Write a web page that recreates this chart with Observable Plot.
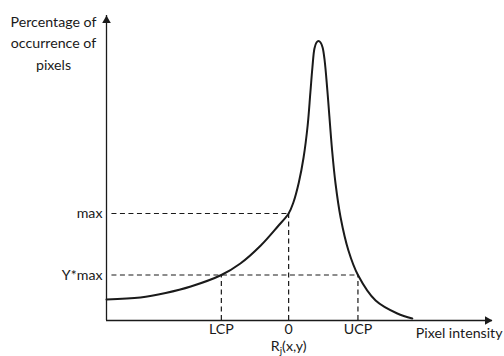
<!DOCTYPE html>
<html>
<head>
<meta charset="utf-8">
<script src="https://cdn.jsdelivr.net/npm/d3@7"></script>
<script src="https://cdn.jsdelivr.net/npm/@observablehq/plot@0.6"></script>
<style>
  html, body { margin: 0; padding: 0; background: #fff; }
  #chart svg { display: block; }
</style>
</head>
<body>
<div id="chart"></div>
<script>
// Histogram curve (pixel intensity vs percentage of occurrence)
const curveX = [-2.68, -2.18, -1.81, -1.44, -0.99, -0.71, -0.41, -0.16, 0, 0.07, 0.15, 0.22, 0.28, 0.32, 0.35, 0.38, 0.41, 0.44, 0.47, 0.50, 0.53, 0.57, 0.64, 0.69, 0.765, 0.88, 1.02, 1.28, 1.60, 1.82];
const curveY = [2.1, 2.3, 2.75, 3.4, 4.55, 5.7, 7.5, 9.4, 10.7, 11.8, 13.8, 16.3, 19.5, 22.8, 25.3, 27.2, 27.8, 27.95, 27.8, 27.3, 26.0, 23.0, 17.0, 13.7, 10.3, 7.0, 4.55, 2.0, 0.7, 0.2];

// Axis extents
const xMin = -2.68, xMax = 3.0;
const yMin = 0, yMax = 30.5;

// Tick values and labels
const xTicks = [-0.99, 0, 1.02];
const xTickLabels = ["LCP", "0", "UCP"];
const yTicks = [4.55, 10.7];
const yTickLabels = ["Y*max", "max"];

// Guide lines
const maxValue = 10.7;
const yMaxValue = 4.55;   // Y*max
const lcp = -0.99, zero = 0, ucp = 1.02;
const guideStart = -2.6;

const xTitle = "Pixel intensity";
const yTitle = "Percentage of\noccurrence of\npixels";
const subLabel = "Rj(x,y)";

const curve = curveX.map((x, i) => ({x, y: curveY[i]}));
const hGuides = [
  {y: maxValue, x1: guideStart, x2: zero},
  {y: yMaxValue, x1: guideStart, x2: ucp}
];
const vGuides = [
  {x: lcp, y1: 0, y2: yMaxValue},
  {x: zero, y1: 0, y2: maxValue},
  {x: ucp, y1: 0, y2: yMaxValue}
];

const FONT = "Lato, 'Liberation Sans', sans-serif";
const INK = "#1a1a1a";

const chart = Plot.plot({
  width: 504,
  height: 356,
  marginLeft: 106,
  marginRight: 12,
  marginTop: 15,
  marginBottom: 36,
  style: {fontFamily: FONT, fontSize: "14.2px", color: INK, background: "#fff"},
  x: {domain: [xMin, xMax], ticks: xTicks, tickFormat: (d, i) => xTickLabels[i], tickSize: 0, tickPadding: 3, label: null},
  y: {domain: [yMin, yMax], ticks: yTicks, tickFormat: (d, i) => yTickLabels[i], tickSize: 0, tickPadding: 4, label: null},
  marks: [
    // dashed guides
    Plot.ruleY(hGuides, {y: "y", x1: "x1", x2: "x2", stroke: INK, strokeWidth: 1.2, strokeDasharray: "5,3.5"}),
    Plot.ruleX(vGuides, {x: "x", y1: "y1", y2: "y2", stroke: INK, strokeWidth: 1.2, strokeDasharray: "5,3.5"}),
    // axes lines
    Plot.ruleX([xMin], {y1: yMin, y2: yMax, stroke: INK, strokeWidth: 1.3}),
    Plot.ruleY([yMin], {x1: xMin, x2: xMax, stroke: INK, strokeWidth: 1.3}),
    // arrow heads
    Plot.dot([{x: xMin, y: yMax}], {x: "x", y: "y", symbol: "triangle", r: 3.2, fill: INK, stroke: "none", dy: 5}),
    Plot.dot([{x: xMax, y: yMin}], {x: "x", y: "y", symbol: "triangle", r: 3.2, fill: INK, stroke: "none", rotate: 90, dx: -5}),
    // curve
    Plot.line(curve, {x: "x", y: "y", curve: "catmull-rom", stroke: INK, strokeWidth: 2}),
    // titles
    Plot.text([xTitle], {x: xMax, y: yMin, text: d => d, textAnchor: "end", dx: 10, dy: 13, fill: INK}),
    Plot.text([yTitle], {x: xMin, y: yMax, text: d => d, textAnchor: "middle", lineAnchor: "top", lineHeight: 1.52, dx: -53, dy: -4, fill: INK}),
    Plot.text([subLabel], {x: zero, y: yMin, text: d => d, textAnchor: "middle", dy: 26, fill: INK})
  ]
});

document.getElementById("chart").appendChild(chart);

// Render subscript j in R_j(x,y)
d3.select(chart).selectAll("text").each(function() {
  if (this.textContent === subLabel) {
    const t = d3.select(this);
    t.text(null);
    t.append("tspan").text("R");
    t.append("tspan").attr("dy", "3").attr("font-size", "10px").text("j");
    t.append("tspan").attr("dy", "-3").text("(x,y)");
  }
});
</script>
</body>
</html>
